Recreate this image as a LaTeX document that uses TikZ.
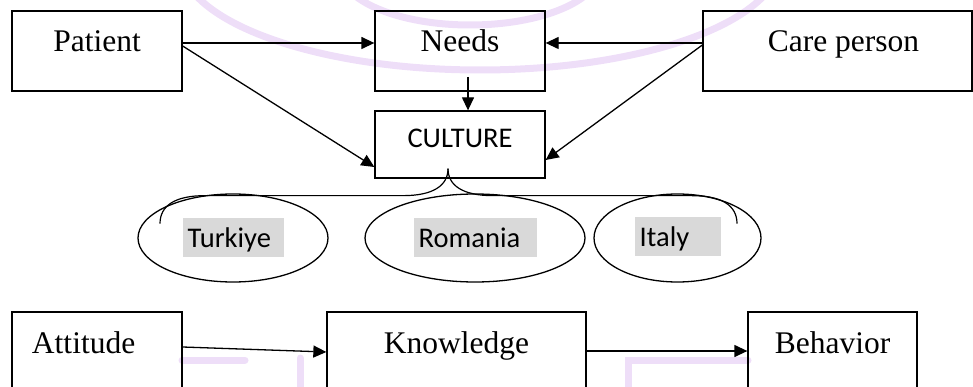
\documentclass[tikz,border=0pt]{standalone}
\usepackage{fontspec}
\setmainfont{Liberation Serif}
\newfontfamily\calfont{Carlito}
\usetikzlibrary{arrows.meta,shapes.geometric}
\definecolor{lblgrey}{RGB}{217,217,217}
\definecolor{wmark}{RGB}{238,222,248}
\begin{document}
\begin{tikzpicture}[x=1pt,y=-1pt,
  box/.style={draw,line width=1.3pt,rectangle,inner sep=0pt,font=\fontsize{31.5}{36}\selectfont},
  cbox/.style={draw,line width=1.3pt,rectangle,inner sep=0pt,font=\calfont\fontsize{28.5}{32}\selectfont},
  arr/.style={line width=1.3pt,-{Triangle[length=13pt,width=12pt]}},
  lbl/.style={fill=lblgrey,inner ysep=0pt,inner xsep=4.5pt,align=left,text height=29pt,text depth=10pt,anchor=north west,font=\calfont\fontsize{28.5}{32}\selectfont},
  oval/.style={draw,line width=1.3pt,ellipse,inner sep=0pt,minimum height=88pt},
  brace/.style={line width=1.2pt},
  wm/.style={draw=wmark,line width=7pt,line cap=round}]
\useasboundingbox (0,0) rectangle (973,387);
\clip (0,0) rectangle (973,387);
% watermark
\draw[wm] (480,-40) ellipse [x radius=300, y radius=110];
\draw[wm] (470,-30) ellipse [x radius=130, y radius=55];
\draw[wm] (182,360) -- (245,360);
\draw[wm] (300,358) -- (300,395);
\draw[wm] (628,395) -- (628,360) -- (748,360);
% top row
\node[box,minimum width=170pt,text height=41pt,text depth=39pt] (patient) at (97,51) {Patient};
\node[box,minimum width=170pt,text height=41pt,text depth=39pt] (needs) at (460,51) {Needs};
\node[box,minimum width=269pt,text height=41pt,text depth=39pt] (care) at (837.5,51) {\hspace*{12pt}Care person};
\node[cbox,minimum width=170pt,text height=37pt,text depth=30pt] (culture) at (460,144.5) {CULTURE};
\draw[arr] ([yshift=8pt]patient.east) -- ([yshift=8pt]needs.west);
\draw[arr] ([yshift=8pt]care.west) -- ([yshift=8pt]needs.east);
\draw[arr] ([yshift=5pt]patient.east) -- ([yshift=-22.5pt]culture.west);
\draw[arr] ([yshift=6pt]care.west) -- ([yshift=-15.5pt]culture.east);
\draw[arr] ([xshift=8pt,yshift=-26pt]needs.center) -- ([xshift=8pt]culture.north);
% brace
\coordinate (tip) at ([xshift=-12pt,yshift=10pt]culture.south);
\draw[brace] (tip) .. controls +(0,17) and +(30,0) .. ++(-45,27) -- ++(-198,0) .. controls +(-30,0) and +(0,-18) .. ++(-45,28);
\draw[brace] (tip) .. controls +(0,17) and +(-30,0) .. ++(45,27) -- ++(199,0) .. controls +(30,0) and +(0,-18) .. ++(45,28);
% ellipses
\node[oval,minimum width=190pt] (tur) at (233,238) {};
\node[oval,minimum width=220pt] (rom) at (475,238) {};
\node[oval,minimum width=167pt] (ita) at (677.5,238) {};
\node[lbl,text width=92pt] (turL) at (183,218) {Turkiye};
\node[lbl,text width=114pt] (romL) at (414,218) {Romania};
\node[lbl,text width=77pt] (itaL) at (635,217) {Italy};
% bottom row
\node[box,minimum width=170pt,text width=170pt,align=left,text height=41pt,text depth=60pt] (att) at (97,362.5) {\hspace*{20pt}Attitude};
\node[box,minimum width=259pt,text height=41pt,text depth=60pt] (know) at (456.5,362.5) {Knowledge};
\node[box,minimum width=169pt,text height=41pt,text depth=60pt] (beh) at (832.5,362.5) {Behavior};
\draw[arr] ([yshift=15.5pt]att.east) -- ([yshift=10.5pt]know.west);
\draw[arr] ([yshift=11.5pt]know.east) -- ([yshift=11.5pt]beh.west);
\end{tikzpicture}
\end{document}
